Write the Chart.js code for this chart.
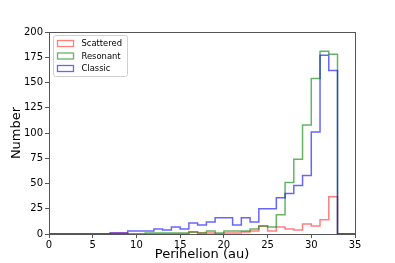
<!DOCTYPE html>
<html>
<head>
<meta charset="utf-8">
<script src="https://cdn.jsdelivr.net/npm/chart.js@4/dist/chart.umd.min.js"></script>
<style>
    html, body { margin: 0; padding: 0; background: #fff; }
</style>
</head>
<body>
<canvas id="chart" width="395" height="263"></canvas>
<script>
// bin edges (au), one-au bins from 0 to 35
const binEdges = [0, 1, 2, 3, 4, 5, 6, 7, 8, 9, 10, 11, 12, 13, 14, 15, 16, 17, 18, 19,
    20, 21, 22, 23, 24, 25, 26, 27, 28, 29, 30, 31, 32, 33, 34, 35]

// counts per bin
const scattered = [0, 0, 0, 0, 0, 0, 0, 1, 1, 0, 0, 0, 0, 0, 0, 0, 2, 1, 1, 0,
    1, 1, 2, 3, 8, 3, 7, 5, 4, 10, 8, 14, 37, 0, 0]
const resonant = [0, 0, 0, 0, 0, 0, 0, 0, 0, 0, 0, 1, 1, 1, 1, 1, 2, 1, 3, 1,
    3, 3, 3, 5, 8, 7, 19, 51, 74, 108, 154, 181, 178, 0, 0]
const classic = [0, 0, 0, 0, 0, 0, 0, 1, 1, 3, 3, 3, 5, 4, 7, 5, 11, 9, 12, 16,
    16, 9, 16, 12, 25, 25, 36, 40, 48, 58, 101, 177, 162, 0, 0]

const seriesNames = ["Scattered", "Resonant", "Classic"]
const xTicks = [0, 5, 10, 15, 20, 25, 30, 35]
const yTicks = [0, 25, 50, 75, 100, 125, 150, 175, 200]

function steps(counts) {
    // last edge closes the outline at zero
    return binEdges.map((edge, i) => ({ x: edge, y: i < counts.length ? counts[i] : 0 }))
}

const font = "'DejaVu Sans', sans-serif"

const frame = {
    id: "frame",
    afterDatasetsDraw(chart) {
        const { ctx, chartArea: a } = chart
        ctx.save()
        ctx.strokeStyle = "#555"
        ctx.lineWidth = 1
        ctx.strokeRect(Math.round(a.left) + 0.5, Math.round(a.top) + 0.5,
            Math.round(a.right - a.left), Math.round(a.bottom - a.top))
        ctx.restore()
    }
}

const boxLegend = {
    id: "boxLegend",
    afterDraw(chart) {
        const { ctx, chartArea: a } = chart
        const x = a.left + 4, y = a.top + 3, w = 74, h = 41
        ctx.save()
        ctx.fillStyle = "rgba(255,255,255,0.85)"
        ctx.strokeStyle = "#d0d0d0"
        ctx.lineWidth = 1
        ctx.beginPath()
        ctx.roundRect(x + 0.5, y + 0.5, w, h, 2)
        ctx.fill()
        ctx.stroke()
        ctx.font = "8.4px " + font
        ctx.textBaseline = "middle"
        chart.data.datasets.forEach((ds, i) => {
            const cy = y + 8.5 + i * 12.5
            ctx.strokeStyle = ds.borderColor
            ctx.lineWidth = 1.3
            ctx.strokeRect(x + 4.5, cy - 3, 16, 6)
            ctx.fillStyle = "#000"
            ctx.fillText(ds.label, x + 28.5, cy + 0.5)
        })
        ctx.restore()
    }
}

const colors = ["rgba(255,0,0,0.5)", "rgba(0,128,0,0.6)", "rgba(0,0,255,0.6)"]
const allCounts = [scattered, resonant, classic]

new Chart("chart", {
    type: "line",
    data: {
        datasets: allCounts.map((counts, i) => ({
            label: seriesNames[i],
            data: steps(counts),
            borderColor: colors[i],
            borderWidth: 1.5,
            stepped: "before",
            pointRadius: 0,
            fill: false,
            clip: 3,
            order: 3 - i
        }))
    },
    options: {
        responsive: false,
        animation: false,
        layout: { padding: { left: 0, top: 32, right: 40, bottom: 0 } },
        plugins: {
            legend: { display: false },
            tooltip: { enabled: false }
        },
        scales: {
            x: {
                type: "linear",
                min: 0,
                max: 35,
                afterBuildTicks: scale => { scale.ticks = xTicks.map(v => ({ value: v })) },
                afterFit: scale => { scale.height = 29 },
                grid: { display: true, drawOnChartArea: false, drawTicks: true, tickLength: 4, color: "#555" },
                border: { display: false },
                ticks: { color: "#000", padding: 1, maxRotation: 0, font: { family: font, size: 10 } },
                title: {
                    display: true,
                    text: "Perihelion (au)",
                    color: "#000",
                    padding: { top: 0, bottom: 1 },
                    font: { family: font, size: 13 }
                }
            },
            y: {
                min: 0,
                max: 200,
                afterBuildTicks: scale => { scale.ticks = yTicks.map(v => ({ value: v })) },
                afterFit: scale => { scale.width = 49 },
                grid: { display: true, drawOnChartArea: false, drawTicks: true, tickLength: 4, color: "#555" },
                border: { display: false },
                ticks: { color: "#000", padding: 2, font: { family: font, size: 10 } },
                title: {
                    display: true,
                    text: "Number",
                    color: "#000",
                    padding: { top: 9, bottom: 0 },
                    font: { family: font, size: 13 }
                }
            }
        }
    },
    plugins: [frame, boxLegend]
})
</script>
</body>
</html>
